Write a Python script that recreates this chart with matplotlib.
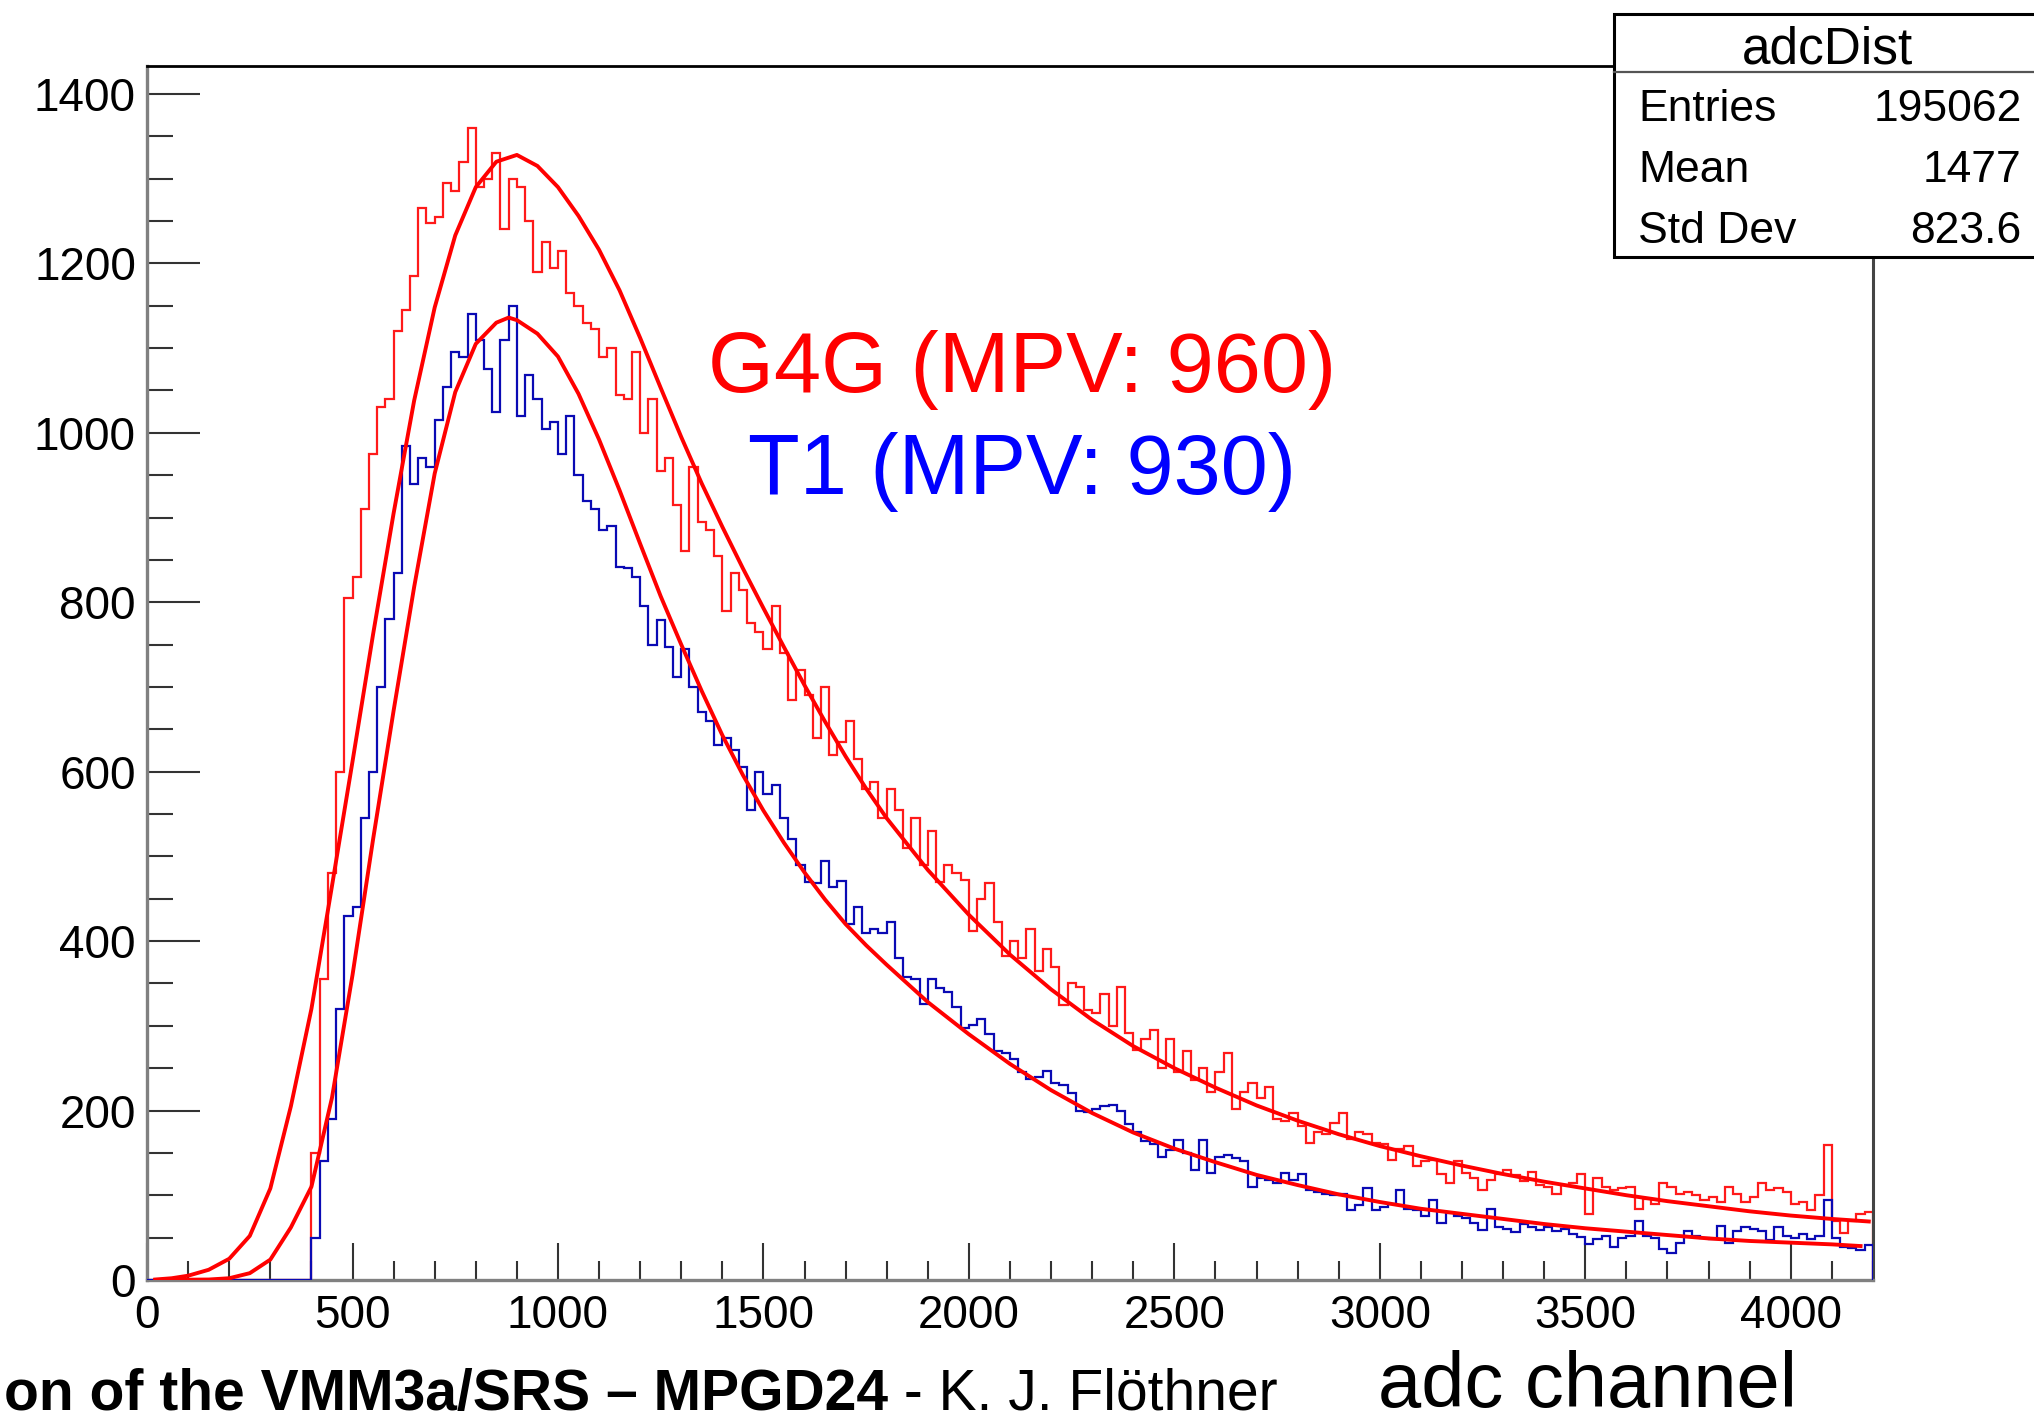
import matplotlib
matplotlib.use("Agg")
import matplotlib.pyplot as plt
import numpy as np
from matplotlib.patches import Rectangle
from matplotlib.lines import Line2D
from matplotlib.ticker import MultipleLocator

plt.rcParams["font.family"] = ["Liberation Sans", "DejaVu Sans"]

# histogram contents, 20 adc channels per bin, 0..4200
bin_width = 20
g4g_counts = [
    0, 0, 0, 0, 0, 0, 0, 0, 0, 0,
    0, 0, 0, 0, 0, 0, 0, 0, 0, 0,
    150, 355, 480, 600, 805, 830, 910, 975, 1030, 1040,
    1120, 1145, 1185, 1265, 1248, 1255, 1295, 1285, 1320, 1360,
    1290, 1300, 1330, 1240, 1300, 1290, 1250, 1190, 1225, 1195,
    1215, 1165, 1150, 1130, 1122, 1090, 1100, 1045, 1040, 1095,
    1000, 1040, 955, 970, 915, 860, 960, 895, 885, 855,
    790, 835, 815, 775, 765, 745, 795, 740, 685, 720,
    690, 640, 700, 620, 635, 660, 615, 580, 588, 545,
    580, 555, 510, 545, 490, 530, 470, 490, 480, 472,
    412, 450, 468, 422, 382, 400, 380, 414, 365, 391,
    369, 324, 350, 346, 319, 315, 337, 300, 346, 292,
    272, 285, 295, 250, 285, 245, 270, 236, 250, 222,
    245, 268, 202, 222, 232, 215, 228, 190, 188, 197,
    182, 162, 175, 172, 185, 197, 166, 175, 172, 162,
    160, 142, 155, 158, 135, 140, 142, 125, 114, 140,
    126, 120, 106, 118, 125, 130, 124, 117, 128, 112,
    110, 102, 112, 114, 125, 78, 120, 110, 106, 108,
    110, 84, 95, 90, 114, 110, 102, 104, 100, 94,
    98, 92, 110, 102, 92, 98, 114, 106, 108, 104,
    90, 92, 82, 100, 159, 70, 55, 70, 78, 80,
]
t1_counts = [
    0, 0, 0, 0, 0, 0, 0, 0, 0, 0,
    0, 0, 0, 0, 0, 0, 0, 0, 0, 0,
    50, 140, 190, 320, 430, 440, 545, 600, 700, 780,
    835, 985, 940, 970, 960, 1015, 1054, 1095, 1090, 1140,
    1110, 1075, 1025, 1110, 1150, 1020, 1068, 1040, 1005, 1013,
    975, 1020, 950, 920, 910, 885, 890, 842, 840, 830,
    795, 750, 779, 747, 712, 745, 700, 670, 660, 632,
    640, 626, 605, 555, 600, 574, 584, 545, 521, 490,
    470, 468, 495, 464, 471, 420, 440, 410, 414, 410,
    423, 380, 358, 355, 326, 355, 345, 340, 322, 297,
    301, 308, 290, 270, 268, 261, 245, 237, 240, 247,
    232, 230, 221, 200, 198, 202, 205, 207, 200, 184,
    175, 164, 161, 145, 153, 165, 150, 130, 165, 126,
    145, 147, 144, 140, 110, 120, 118, 114, 126, 118,
    125, 106, 104, 102, 100, 102, 83, 88, 108, 83,
    86, 90, 106, 84, 82, 75, 94, 67, 79, 75,
    73, 67, 59, 84, 63, 60, 56, 66, 62, 59,
    62, 58, 60, 54, 51, 43, 48, 52, 39, 50,
    52, 70, 52, 50, 36, 32, 44, 58, 52, 50,
    48, 64, 44, 58, 62, 60, 58, 47, 62, 52,
    50, 54, 48, 52, 94, 50, 39, 38, 35, 41,
]

# fitted curves
g4g_fit_x = [20, 60, 100, 150, 200, 250, 300, 350, 400, 450, 500, 550, 600,
             650, 700, 750, 800, 850, 900, 950, 1000, 1050, 1100, 1150, 1200,
             1250, 1300, 1350, 1400, 1450, 1500, 1550, 1600, 1650, 1700, 1750,
             1800, 1900, 2000, 2100, 2200, 2300, 2400, 2500, 2600, 2700, 2800,
             2900, 3000, 3100, 3200, 3300, 3400, 3500, 3600, 3700, 3800, 3900,
             4000, 4100, 4190]
g4g_fit_y = [0.5, 2, 5, 12, 25, 52, 108, 205, 320, 465, 612, 762, 905,
             1038, 1148, 1233, 1290, 1320, 1328, 1315, 1290, 1256, 1216, 1168, 1112,
             1053, 995, 940, 889, 840, 793, 747, 702, 659, 618, 580,
             545, 484, 431, 384, 343, 307, 276, 250, 227, 206, 188,
             172, 158, 146, 135, 125, 116, 108, 100, 93, 87, 81,
             76, 72, 69]
t1_fit_x = [20, 150, 200, 250, 300, 350, 400, 450, 500, 550, 600, 650, 700,
            750, 800, 850, 880, 900, 950, 1000, 1050, 1100, 1150, 1200, 1250,
            1300, 1350, 1400, 1450, 1500, 1550, 1600, 1650, 1700, 1750, 1800,
            1900, 2000, 2100, 2200, 2300, 2400, 2500, 2600, 2700, 2800, 2900,
            3000, 3100, 3200, 3300, 3400, 3500, 3600, 3700, 3800, 3900, 4000,
            4100, 4170]
t1_fit_y = [0, 0.5, 2, 8, 24, 62, 110, 215, 360, 520, 672, 818, 952,
            1048, 1105, 1130, 1136, 1133, 1117, 1090, 1046, 992, 932, 869, 807,
            750, 695, 643, 596, 554, 516, 481, 449, 420, 395, 372,
            328, 290, 255, 224, 197, 174, 155, 139, 124, 112, 101,
            92, 84, 78, 72, 66, 61, 57, 53, 49, 46, 44,
            42, 40]

stat_names = ["Entries", "Mean", "Std Dev"]
stat_values = ["195062", "1477", "823.6"]

fig = plt.figure(figsize=(20.34, 14.19), dpi=100)
ax = fig.add_axes([0.0723, 0.098, 0.8485, 0.8555])

edges = np.arange(len(g4g_counts) + 1) * bin_width
ax.stairs(g4g_counts, edges, color="#ff1a1a", lw=1.6, baseline=0, zorder=2)
ax.stairs(t1_counts, edges, color="#0a0ab4", lw=1.6, baseline=0, zorder=3)
ax.plot(g4g_fit_x, g4g_fit_y, color="#ff0000", lw=2.8, zorder=4)
ax.plot(t1_fit_x, t1_fit_y, color="#ff0000", lw=2.8, zorder=4)

ax.set_xlim(0, 4200)
ax.set_ylim(0, 1433)
ax.xaxis.set_major_locator(MultipleLocator(500))
ax.xaxis.set_minor_locator(MultipleLocator(100))
ax.yaxis.set_major_locator(MultipleLocator(200))
ax.yaxis.set_minor_locator(MultipleLocator(50))
ax.tick_params(axis="both", which="both", direction="in", colors="#333333",
               labelcolor="black", labelsize=33, width=1.5)
ax.tick_params(axis="y", which="major", length=38, pad=8)
ax.tick_params(axis="y", which="minor", length=19)
ax.tick_params(axis="x", which="major", length=27, pad=10)
ax.tick_params(axis="x", which="minor", length=14)

ax.spines["left"].set_color("#808080")
ax.spines["left"].set_linewidth(2.4)
ax.spines["bottom"].set_color("#808080")
ax.spines["bottom"].set_linewidth(2.4)
ax.spines["top"].set_color("black")
ax.spines["top"].set_linewidth(2.0)
ax.spines["right"].set_color("#444444")
ax.spines["right"].set_linewidth(2.2)

# annotations
fig.text(0.5026, 0.7238, "G4G (MPV: 960)", color="#ff0000", fontsize=61,
         ha="center", va="baseline")
fig.text(0.5026, 0.652, "T1 (MPV: 930)", color="#0000ff", fontsize=61,
         ha="center", va="baseline")

# stats box
box = Rectangle((0.7935, 0.819), 0.25, 0.171, transform=fig.transFigure,
                facecolor="white", edgecolor="black", lw=2.2, zorder=10)
fig.add_artist(box)
fig.add_artist(Line2D([0.7935, 1.0], [0.9493, 0.9493], transform=fig.transFigure,
                      color="#555555", lw=1.6, zorder=11))
fig.text(0.8985, 0.955, "adcDist", fontsize=37, ha="center", va="baseline",
         zorder=12)
stat_y = [0.915, 0.872, 0.829]
for name, val, yy in zip(stat_names, stat_values, stat_y):
    fig.text(0.8054, yy, name, fontsize=32, ha="left", va="baseline", zorder=12)
    fig.text(0.994, yy, val, fontsize=32, ha="right", va="baseline", zorder=12)

# footer and axis title
t_bold = fig.text(0.002, 0.0065, "on of the VMM3a/SRS \u2013 MPGD24", fontsize=41,
                  fontweight="bold", ha="left", va="baseline")
fig.canvas.draw()
bb = t_bold.get_window_extent(fig.canvas.get_renderer())
x_end = bb.x1 / fig.bbox.width
fig.text(x_end, 0.0065, " - K. J. Fl\u00f6thner", fontsize=41, ha="left",
         va="baseline")
fig.text(0.8835, 0.0085, "adc channel", fontsize=56, ha="right", va="baseline")

fig.savefig("out.png", dpi=100)
